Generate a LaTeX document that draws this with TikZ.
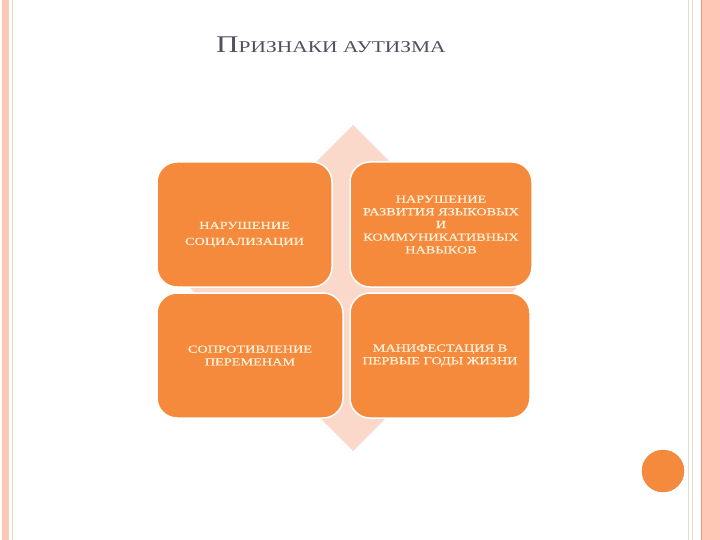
\documentclass[tikz,border=0pt]{standalone}
\usepackage{fontspec}
\setmainfont{Liberation Serif}
\newfontfamily\tilefont[FakeStretch=1.32,FakeBold=0.3]{Liberation Serif}
\newfontfamily\titlefont[FakeStretch=1.3]{Liberation Serif}
\usetikzlibrary{math}
\usetikzlibrary{positioning}

\definecolor{tileorange}{RGB}{246,138,60}
\definecolor{dotrim}{RGB}{232,128,60}
\definecolor{rimpeach}{RGB}{250,216,202}
\definecolor{stripesalmon}{RGB}{255,200,182}
\definecolor{stripedark}{RGB}{240,150,120}
\definecolor{stripeline}{RGB}{238,214,200}
\definecolor{titlegray}{RGB}{80,80,96}
\definecolor{tilecream}{RGB}{255,243,222}

\begin{document}
\begin{tikzpicture}[x=1pt,y=-1pt,
  tile/.style={draw=white, line width=1.5pt, fill=tileorange,
    rounded corners=20pt, inner sep=0pt, minimum height=125pt},
  tiletext/.style={text=tilecream, align=center, inner sep=0pt,
    font=\tilefont\fontsize{10.8}{12.7}\selectfont}]

  \tikzmath{
    \diamondhalf = 163; % half diagonal of the diamond behind the tiles
    \dotradius   = 21;  % radius of the orange dot, bottom right
  }

  \useasboundingbox (0,0) rectangle (720,540);

  % side stripes
  \fill[stripesalmon] (2,0) rectangle (9,540);
  \draw[stripeline, line width=1pt] (12,0) -- (12,540);
  \draw[stripeline] (688,0) -- (688,540);
  \draw[stripeline] (692,0) -- (692,540);
  \fill[stripesalmon] (701,0) rectangle (720,540);
  \draw[stripedark] (701.5,0) -- (701.5,540);

  % title
  \node[titlegray, anchor=base west, inner sep=0pt] (title) at (216,53)
  {\titlefont\fontsize{24}{24}\selectfont П\fontsize{16.5}{16.5}\selectfont РИЗНАКИ АУТИЗМА};

  % diamond behind the tiles
  \coordinate (M) at (353,288);
  \fill[rimpeach] (353, 288-\diamondhalf) -- (353+\diamondhalf, 288)
    -- (353, 288+\diamondhalf) -- (353-\diamondhalf, 288) -- cycle;

  % tiles
  \node[tile, minimum width=175pt] (social) at (244.5,224.5) {};
  \node[tile, minimum width=182pt] (speech) at (441,224.5) {};
  \node[tile, minimum width=186pt] (change) at (250,355.5) {};
  \node[tile, minimum width=180pt] (onset)  at (440,355.5) {};

  \node[tiletext, font=\tilefont\fontsize{10.8}{16}\selectfont] (socialtext)
  at ([yshift=-10pt]social.center) {НАРУШЕНИЕ\\СОЦИАЛИЗАЦИИ};
  \node[tiletext] (speechtext) at (speech.center)
  {НАРУШЕНИЕ\\РАЗВИТИЯ ЯЗЫКОВЫХ\\И\\КОММУНИКАТИВНЫХ\\НАВЫКОВ};
  \node[tiletext] (changetext) at (change.center) {СОПРОТИВЛЕНИЕ\\ПЕРЕМЕНАМ};
  \node[tiletext] (onsettext) at (onset.center) {МАНИФЕСТАЦИЯ В\\ПЕРВЫЕ ГОДЫ ЖИЗНИ};

  % orange dot
  \node[circle, fill=tileorange, draw=dotrim, inner sep=0pt,
    minimum size=2*\dotradius] (dot) at (663,471) {};

\end{tikzpicture}
\end{document}
